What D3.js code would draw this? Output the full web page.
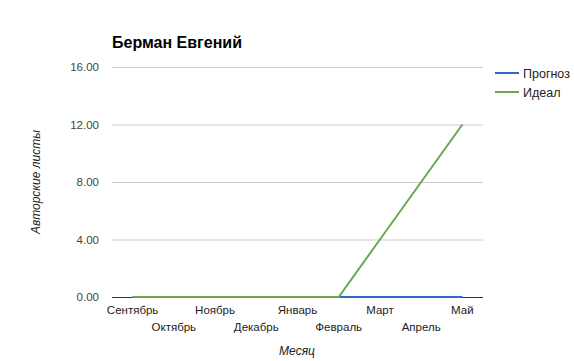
<!DOCTYPE html>
<html>
<head>
<meta charset="UTF-8">
<style>
body { margin: 0; background: #fff; }
svg { display: block; font-family: "Liberation Sans", Arial, sans-serif; }
</style>
</head>
<body>
<svg></svg>
<script src="https://d3js.org/d3.v7.min.js"></script>
<script>
let width = 574, height = 361;

let months = ["Сентябрь", "Октябрь", "Ноябрь", "Декабрь", "Январь", "Февраль", "Март", "Апрель", "Май"];
let prognoz = [0, 0, 0, 0, 0, 0, 0, 0, 0];
let ideal = [0, 0, 0, 0, 0, 0, 4, 8, 12];
let yTicks = [0, 4, 8, 12, 16];

let series = [
    {name: "Прогноз", values: prognoz, color: "#3366cc"},
    {name: "Идеал", values: ideal, color: "#6aa84f"}
];

let svg = d3.select("svg")
    .attr("width", width)
    .attr("height", height);

let plotLeft = 112, plotRight = 483, plotTop = 67, plotBottom = 297;

let x = d3.scalePoint()
    .domain(months)
    .range([plotLeft, plotRight])
    .padding(0.5);

let y = d3.scaleLinear()
    .domain([0, 16])
    .range([plotBottom, plotTop]);

// gridlines
svg.append("g")
  .selectAll("line")
  .data(yTicks.filter(d => d > 0))
  .enter()
  .append("line")
    .attr("x1", plotLeft)
    .attr("x2", plotRight)
    .attr("y1", d => y(d) + 0.5)
    .attr("y2", d => y(d) + 0.5)
    .attr("stroke", "#cccccc")
    .attr("stroke-width", 1)

// y tick labels
svg.append("g")
  .selectAll("text")
  .data(yTicks)
  .enter()
  .append("text")
    .attr("x", 99)
    .attr("y", d => y(d) + 4)
    .attr("text-anchor", "end")
    .attr("font-size", 11.5)
    .attr("fill", "#444")
    .text(d => d.toFixed(2))

// baseline
svg.append("line")
    .attr("x1", plotLeft)
    .attr("x2", plotRight)
    .attr("y1", plotBottom + 0.5)
    .attr("y2", plotBottom + 0.5)
    .attr("stroke", "#333")

// lines
let line = d3.line()
    .x((d, i) => x(months[i]))
    .y(d => y(d));

svg.append("g")
  .selectAll("path")
  .data(series)
  .enter()
  .append("path")
    .attr("d", d => line(d.values))
    .attr("fill", "none")
    .attr("stroke", d => d.color)
    .attr("stroke-width", 2)

// x labels, staggered
svg.append("g")
  .selectAll("text")
  .data(months)
  .enter()
  .append("text")
    .attr("x", d => x(d))
    .attr("y", (d, i) => i % 2 == 0 ? 314 : 331)
    .attr("text-anchor", "middle")
    .attr("font-size", 11.5)
    .attr("fill", "#222")
    .text(d => d)

// title
svg.append("text")
    .attr("x", 112)
    .attr("y", 48)
    .attr("font-size", 16)
    .attr("font-weight", "bold")
    .attr("fill", "#000")
    .text("Берман Евгений")

// axis titles
svg.append("text")
    .attr("x", 297)
    .attr("y", 355)
    .attr("text-anchor", "middle")
    .attr("font-size", 12)
    .attr("font-style", "italic")
    .attr("fill", "#222")
    .text("Месяц")

svg.append("text")
    .attr("transform", "translate(40,182) rotate(-90)")
    .attr("text-anchor", "middle")
    .attr("font-size", 12)
    .attr("font-style", "italic")
    .attr("fill", "#222")
    .text("Авторские листы")

// legend
let legend = svg.append("g")
  .selectAll("g")
  .data(series)
  .enter()
  .append("g")
    .attr("transform", (d, i) => "translate(495," + (73 + i * 19) + ")")

legend.append("line")
    .attr("x1", 0)
    .attr("x2", 24)
    .attr("stroke", d => d.color)
    .attr("stroke-width", 2)

legend.append("text")
    .attr("x", 28)
    .attr("y", 4.5)
    .attr("font-size", 12.5)
    .attr("fill", "#222")
    .text(d => d.name)
</script>
</body>
</html>
